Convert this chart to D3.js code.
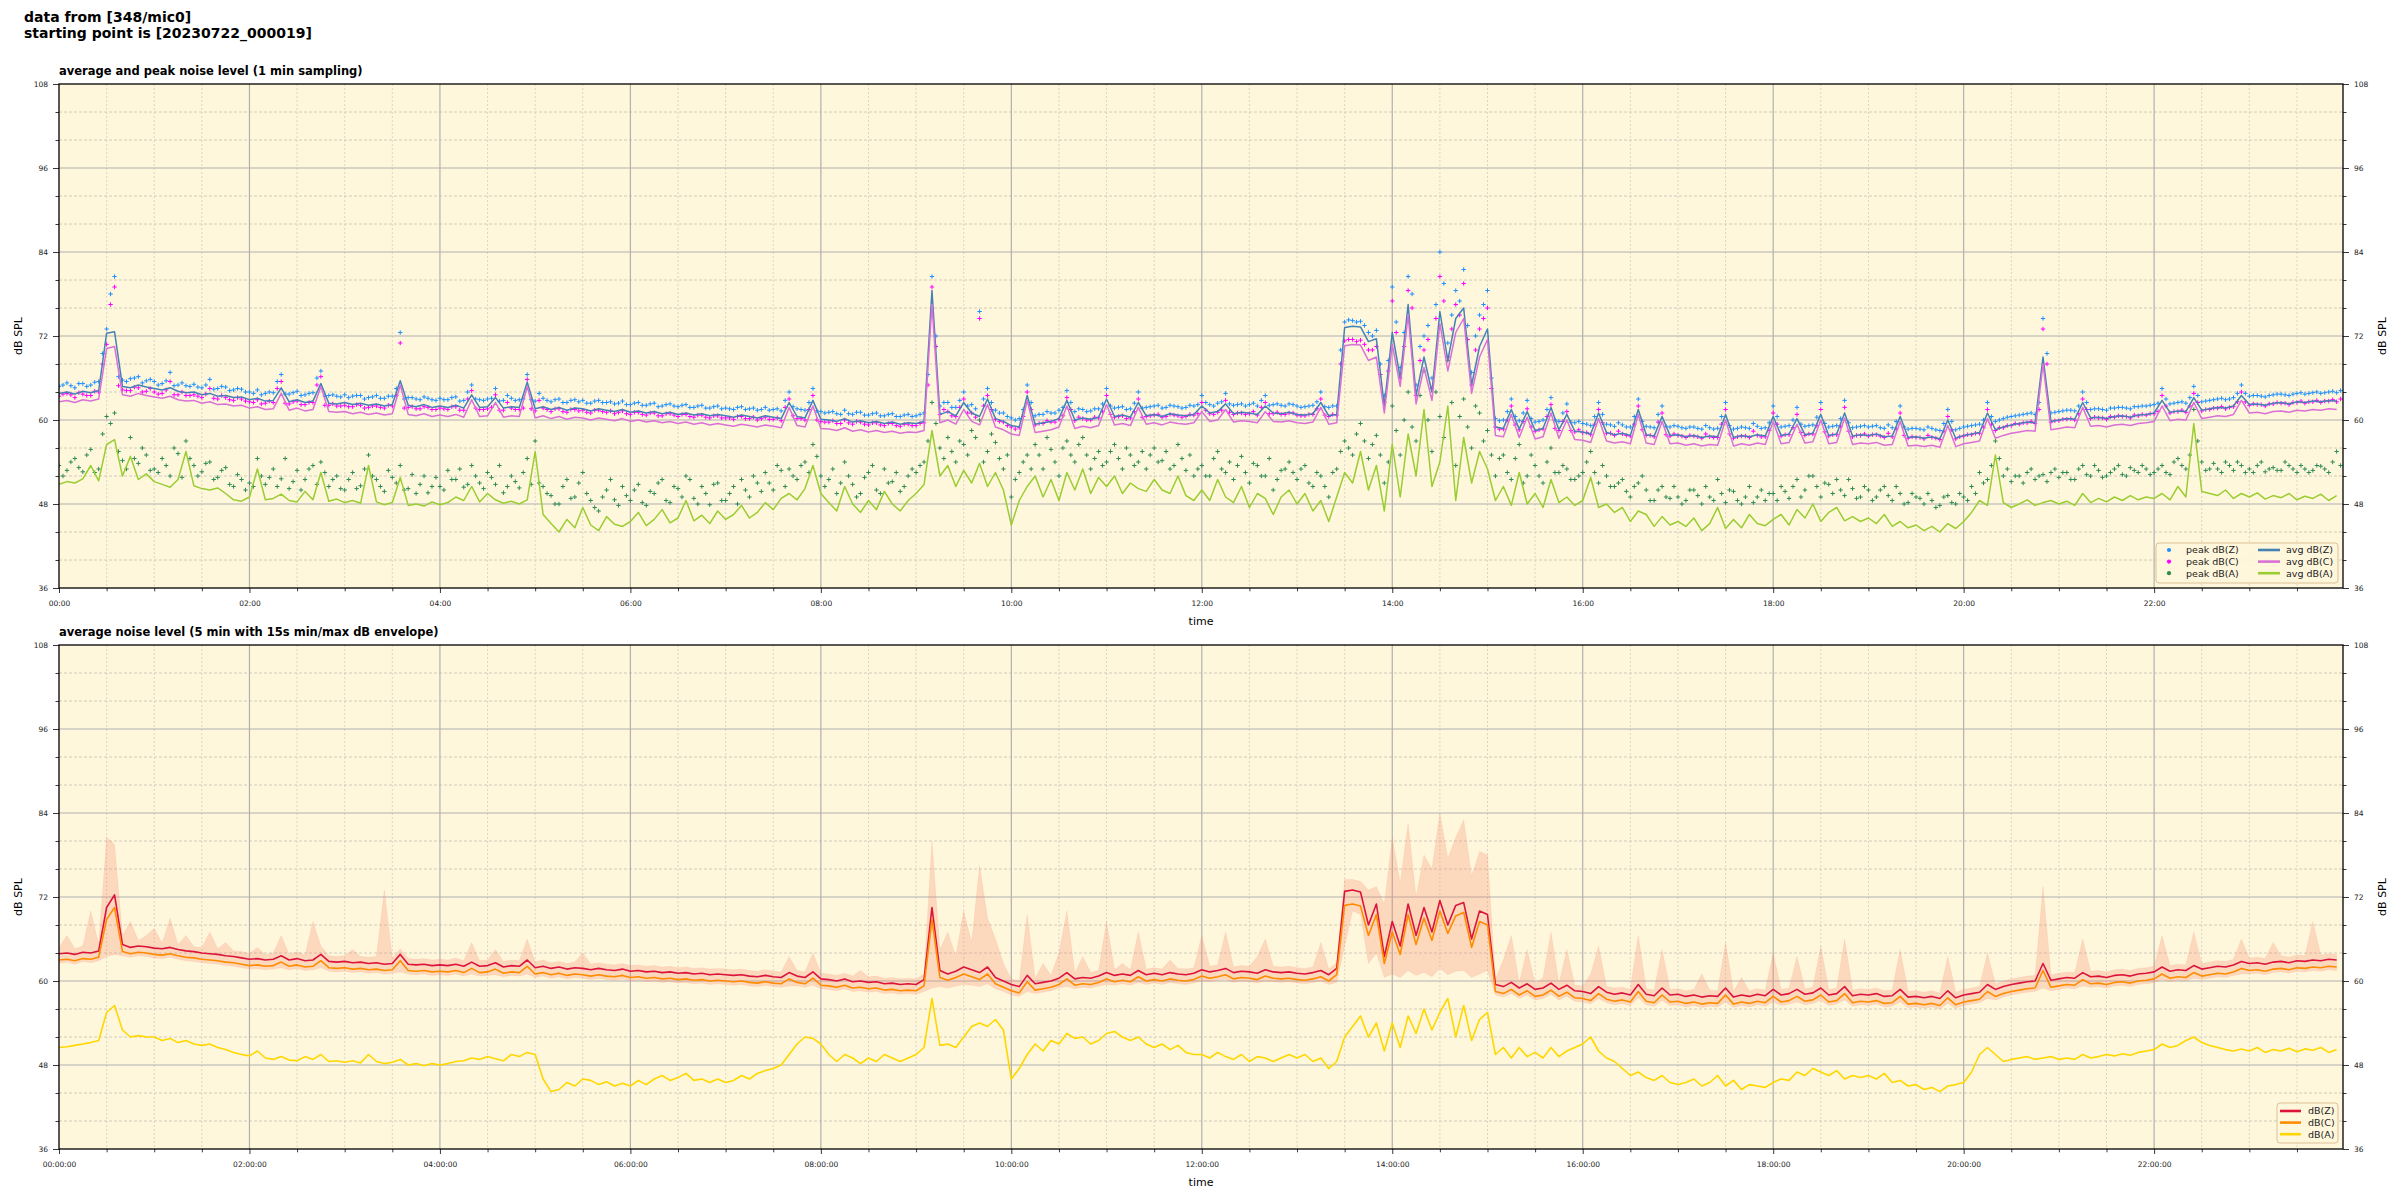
<!DOCTYPE html>
<html><head><meta charset="utf-8">
<script src="https://cdn.jsdelivr.net/npm/d3@7"></script>
<style>body{margin:0;background:#fff;} svg{display:block;font-family:"DejaVu Sans",sans-serif;}</style>
</head><body><svg id="c" width="2400" height="1200"></svg>
<script>
// sampling step of the arrays below (minutes); index i -> i*5 min after 00:00
const stepMin = 5;
// second peak arrays are sampled half a step later (i*5 + 2.5 min)
const halfStep = 2.5;
const yTicks = [36, 48, 60, 72, 84, 96, 108];
const topTitle = "average and peak noise level (1 min sampling)";
const botTitle = "average noise level (5 min with 15s min/max dB envelope)";

const avgZ = [
63.8,64.0,63.7,64.1,63.9,64.2,72.4,72.6,64.8,64.6,65.0,64.7,
64.5,64.3,64.6,64.1,63.9,64.0,63.6,63.8,63.4,63.5,63.2,63.3,
62.9,63.1,62.7,62.8,64.6,62.6,62.9,62.5,62.7,65.2,62.4,62.3,
62.5,62.2,62.4,62.1,62.3,62.0,62.2,65.6,62.1,61.9,62.2,61.8,
62.0,61.8,62.1,61.7,63.6,61.8,61.9,63.2,61.7,61.9,61.8,65.4,
61.6,61.9,61.5,61.8,61.4,61.7,61.6,61.3,61.6,61.4,61.2,61.5,
61.1,61.3,61.0,61.2,60.9,61.1,60.8,61.0,60.7,60.9,60.6,60.8,
60.6,60.4,60.7,60.5,60.3,60.6,60.4,60.2,62.5,60.5,60.3,62.8,
60.1,60.0,59.8,60.2,59.7,59.9,59.6,59.8,59.5,59.7,59.4,59.6,
59.5,59.8,78.5,60.8,61.2,60.6,62.5,61.0,60.5,63.0,60.2,59.8,
59.2,59.0,63.5,59.4,59.6,59.8,60.2,62.8,60.0,60.3,60.1,60.4,
63.0,60.5,60.7,60.4,62.5,60.6,60.8,60.5,60.9,60.7,60.6,60.8,
62.0,61.0,61.2,62.3,60.9,61.1,61.0,60.8,62.0,61.0,60.9,61.1,
60.8,60.7,60.9,62.5,60.6,60.8,73.2,73.4,73.3,71.2,71.6,62.0,
72.5,66.0,76.5,63.5,69.0,64.0,75.5,68.5,74.5,76.0,65.0,70.5,
73.0,59.0,58.8,61.5,58.7,61.2,58.5,58.8,61.8,58.6,60.8,58.4,
58.3,58.0,61.0,58.2,57.9,58.1,57.8,61.5,57.9,57.7,60.5,57.8,
57.9,57.6,57.8,57.5,57.7,57.6,60.8,57.5,57.8,57.6,57.9,57.7,
60.5,57.8,58.0,60.2,57.9,58.1,60.8,57.8,58.0,61.0,57.7,57.9,
57.8,58.0,57.6,57.7,60.5,57.5,57.6,57.4,57.6,57.3,60.0,57.4,
57.8,58.0,58.2,61.0,58.6,59.0,59.3,59.5,59.7,59.6,69.0,59.8,
60.0,60.2,60.1,62.5,60.3,60.4,60.2,60.5,60.6,60.4,60.7,60.8,
61.0,62.8,61.1,61.3,61.2,63.2,61.4,61.6,61.8,61.7,62.0,63.5,
62.2,62.3,62.1,62.4,62.5,62.3,62.6,62.5,62.7,62.6,62.8,62.7];

const avgC = [
62.6,62.8,62.5,62.9,62.7,63.0,70.2,70.5,63.6,63.4,63.8,63.5,
63.3,63.1,63.4,62.9,62.7,62.8,62.4,62.6,62.2,62.3,62.0,62.1,
61.7,61.9,61.5,61.6,63.8,61.4,61.7,61.3,61.5,64.8,61.2,61.1,
61.2,60.9,61.1,60.8,61.0,60.7,60.9,65.0,60.8,60.6,60.9,60.5,
60.7,60.5,60.8,60.4,62.9,60.5,60.6,62.5,60.4,60.6,60.5,64.8,
60.3,60.6,60.2,60.5,60.1,60.4,60.3,60.0,60.3,60.1,59.9,60.2,
59.8,60.0,59.7,59.9,59.6,59.8,59.5,59.7,59.4,59.6,59.3,59.5,
59.3,59.1,59.4,59.2,59.0,59.3,59.1,58.9,61.8,59.2,59.0,62.0,
58.8,58.7,58.5,58.9,58.4,58.6,58.3,58.5,58.2,58.4,58.1,58.3,
58.2,58.5,76.5,59.6,60.0,59.4,61.5,59.8,59.3,62.2,59.0,58.6,
58.0,57.8,62.8,58.2,58.4,58.6,59.0,62.0,58.8,59.1,58.9,59.2,
62.2,59.3,59.5,59.2,61.8,59.4,59.6,59.3,59.7,59.5,59.4,59.6,
61.2,59.8,60.0,61.5,59.7,59.9,59.8,59.6,61.2,59.8,59.7,59.9,
59.6,59.5,59.7,61.8,59.4,59.6,70.6,70.8,70.7,68.5,69.0,61.0,
70.8,64.8,75.0,62.3,67.5,62.8,73.8,67.0,72.5,74.5,63.8,69.0,
71.5,57.8,57.6,60.8,57.5,60.4,57.3,57.6,61.0,57.4,60.0,57.2,
57.1,56.8,60.2,57.0,56.7,56.9,56.6,60.8,56.7,56.5,59.8,56.6,
56.7,56.4,56.6,56.3,56.5,56.4,60.0,56.3,56.6,56.4,56.7,56.5,
59.8,56.6,56.8,59.4,56.7,56.9,60.0,56.6,56.8,60.3,56.5,56.7,
56.6,56.8,56.4,56.5,59.8,56.3,56.4,56.2,56.4,56.1,59.2,56.2,
56.6,56.8,57.0,60.2,57.4,57.8,58.1,58.3,58.5,58.4,68.0,58.6,
58.8,59.0,58.9,61.8,59.1,59.2,59.0,59.3,59.4,59.2,59.5,59.6,
59.8,62.0,59.9,60.1,60.0,62.5,60.2,60.4,60.6,60.5,60.8,62.8,
61.0,61.1,60.9,61.2,61.3,61.1,61.4,61.3,61.5,61.4,61.6,61.5];

const avgA = [
50.8,51.2,51.0,51.6,53.5,51.3,56.5,57.2,52.0,54.8,51.5,52.3,
51.2,50.8,50.4,51.5,55.5,50.6,50.2,50.0,50.3,49.5,48.6,48.4,
49.0,53.0,48.6,48.8,49.4,48.5,48.3,49.8,48.6,52.5,48.4,48.7,
48.2,48.5,48.1,53.5,48.3,47.9,48.2,51.8,47.8,48.0,47.7,48.3,
47.9,48.2,49.0,48.5,50.5,48.3,49.5,48.6,48.1,48.4,48.0,48.6,
55.5,46.5,45.2,44.0,45.8,44.6,47.5,45.0,44.2,46.2,45.1,44.8,
45.5,46.8,44.9,45.8,47.2,45.3,46.0,48.5,45.6,46.4,45.2,47.0,
45.8,46.5,47.8,46.0,46.8,48.2,47.2,48.8,49.5,48.6,50.2,53.5,
49.5,48.2,47.0,50.5,48.0,46.8,48.5,47.2,49.8,48.0,47.0,48.5,
49.5,50.8,58.5,52.0,53.5,50.5,52.8,51.0,53.8,50.5,52.5,50.0,
45.0,48.5,50.5,52.0,49.0,51.5,48.5,52.5,50.0,53.0,49.5,51.8,
50.5,52.0,49.5,51.0,50.2,49.8,51.5,50.0,49.5,52.0,49.2,48.5,
50.0,48.5,51.5,49.0,48.2,50.5,47.5,49.5,48.8,46.5,49.0,50.0,
48.0,49.5,47.0,48.5,45.5,49.0,52.5,51.0,55.5,50.0,53.5,47.0,
56.5,49.0,58.0,52.0,61.5,50.5,54.0,62.0,48.5,57.5,51.0,55.5,
53.0,48.5,50.5,47.8,52.5,48.0,49.5,47.5,51.5,48.2,49.0,47.8,
48.5,51.8,47.5,48.0,46.8,47.5,45.5,47.0,46.5,44.8,46.2,45.0,
45.5,44.8,46.0,44.2,45.2,47.5,44.5,45.8,44.6,46.5,45.2,44.9,
45.8,46.5,45.0,47.2,46.0,48.0,45.5,46.8,47.5,45.6,46.2,45.5,
46.0,45.2,46.5,44.8,45.5,44.6,45.0,44.2,44.8,44.0,45.2,44.5,
45.5,46.8,48.5,47.8,55.0,48.2,47.5,48.0,48.6,47.8,48.2,48.5,
48.0,48.4,47.8,49.5,48.2,48.8,48.3,49.0,48.5,49.2,48.6,49.0,
48.8,49.5,48.6,50.5,49.0,59.5,49.8,49.5,49.2,50.0,48.8,49.5,
49.0,49.6,48.7,49.2,48.9,49.5,48.6,49.1,48.8,49.4,48.5,49.2];

const peakZ = [
64.8,65.3,64.6,65.2,65.0,65.5,73.0,80.5,65.7,65.9,66.2,65.6,
65.5,65.2,66.8,65.0,64.9,65.1,64.6,65.8,64.5,64.7,64.3,64.4,
64.0,64.3,63.8,63.9,66.5,63.7,64.1,63.6,63.9,67.0,63.5,63.4,
63.6,63.4,63.5,63.2,63.5,63.1,63.4,72.5,63.2,63.0,63.3,62.9,
63.1,62.9,63.3,62.8,65.0,62.9,63.0,64.5,62.8,63.1,62.9,66.5,
62.7,63.1,62.6,63.0,62.5,62.9,62.8,62.4,62.8,62.5,62.3,62.7,
62.2,62.5,62.1,62.4,62.0,62.3,61.9,62.2,61.8,62.1,61.7,62.0,
61.7,61.5,61.9,61.6,61.4,61.8,61.5,61.3,64.0,61.6,61.4,64.5,
61.2,61.1,60.9,61.4,60.8,61.1,60.7,61.0,60.6,60.9,60.5,60.8,
60.6,61.0,80.5,62.0,62.5,61.8,64.0,62.2,75.5,64.5,61.4,61.0,
60.3,60.2,65.0,60.6,60.8,61.0,61.4,64.2,61.2,61.5,61.3,61.6,
64.5,61.7,61.9,61.6,64.0,61.8,62.0,61.7,62.1,61.9,61.8,62.0,
63.5,62.2,62.4,63.8,62.1,62.3,62.2,62.0,63.5,62.2,62.1,62.3,
62.0,61.9,62.1,64.0,61.8,62.0,74.0,74.2,74.1,72.5,72.8,63.5,
79.0,67.5,80.5,65.0,72.0,66.0,84.0,71.0,78.5,81.5,66.8,75.0,
78.5,60.2,60.0,63.0,59.9,62.8,59.7,60.0,63.2,59.8,62.3,59.6,
59.5,59.2,62.5,59.4,59.1,59.3,59.0,63.0,59.1,58.9,62.0,59.0,
59.1,58.8,59.0,58.7,58.9,58.8,62.5,58.7,59.0,58.8,59.1,58.9,
62.0,59.0,59.2,61.8,59.1,59.3,62.5,59.0,59.2,62.8,58.9,59.1,
59.0,59.2,58.8,58.9,62.0,58.7,58.8,58.6,58.8,58.5,61.5,58.6,
59.0,59.2,59.4,62.5,59.8,60.2,60.5,60.7,60.9,60.8,74.5,61.0,
61.2,61.4,61.3,64.0,61.5,61.6,61.4,61.7,61.8,61.6,61.9,62.0,
62.2,64.5,62.3,62.5,62.4,64.8,62.6,62.8,63.0,62.9,63.2,65.0,
63.4,63.5,63.3,63.6,63.7,63.5,63.8,63.7,63.9,63.8,64.0,63.9];

const peakZ2 = [
65.0,64.9,65.2,64.8,65.4,69.5,78.0,66.2,65.5,66.0,65.3,65.8,
65.0,65.6,64.9,65.3,64.8,64.7,65.0,64.4,64.8,64.2,64.5,64.0,
63.8,63.6,64.0,65.5,63.7,63.9,63.5,63.8,66.0,63.4,63.6,63.3,
63.2,63.5,63.0,63.3,63.1,63.4,64.5,63.0,63.2,62.9,63.1,62.8,
62.9,63.2,62.7,64.0,63.0,62.8,63.1,62.7,63.5,62.8,63.0,62.9,
63.8,62.8,62.9,62.5,62.8,62.6,62.4,62.7,62.5,62.6,62.4,62.2,
62.4,62.1,62.3,61.9,62.2,62.0,62.1,61.8,62.0,61.7,61.9,61.6,
61.6,61.8,61.5,61.7,61.5,61.4,61.6,62.8,61.9,61.5,62.5,61.3,
61.0,61.2,60.8,60.9,61.1,60.7,60.9,60.6,60.8,60.5,60.7,60.5,
60.8,66.5,72.0,62.5,61.8,62.8,62.0,61.6,63.0,62.5,61.0,60.5,
60.0,61.5,62.5,60.8,61.2,61.0,61.8,62.5,61.6,61.2,61.6,62.3,
62.0,61.8,61.5,62.4,61.7,61.9,62.1,61.8,62.0,61.7,62.1,62.2,
62.5,62.0,62.6,62.3,62.2,62.0,62.4,62.8,62.1,62.3,62.0,62.2,
61.8,62.0,62.6,61.9,62.0,70.0,74.3,74.0,73.5,72.0,68.0,68.5,
74.0,72.5,78.0,70.5,73.5,76.5,79.5,75.0,77.0,73.5,72.0,76.5,
66.0,59.9,61.2,60.5,61.0,60.2,59.8,61.5,60.0,61.0,59.7,59.8,
59.4,60.5,60.8,59.3,59.6,59.0,60.5,59.8,59.0,60.8,59.1,59.2,
58.9,59.0,58.8,59.2,58.7,60.5,59.2,58.8,58.9,59.5,58.8,59.6,
60.5,59.1,60.0,59.4,59.2,60.4,59.5,59.1,60.2,59.6,59.0,59.2,
59.1,58.9,59.3,59.8,59.0,58.8,58.7,59.0,58.6,59.5,59.8,58.8,
59.1,59.3,60.0,60.5,60.0,60.4,60.6,60.8,61.0,62.5,69.5,61.1,
61.3,61.4,62.0,62.5,61.6,61.5,61.7,61.8,61.7,61.9,62.0,62.1,
62.4,63.0,62.4,62.6,63.2,63.5,62.7,62.9,63.1,63.0,63.8,63.8,
63.5,63.4,63.5,63.7,63.6,63.7,63.9,63.8,64.0,63.9,64.1,64.2];

const peakC = [
63.4,63.8,63.2,63.7,63.5,64.0,70.8,79.0,64.3,64.2,64.6,64.1,
64.0,63.8,65.5,63.6,63.5,63.6,63.2,64.5,63.0,63.2,62.8,63.0,
62.6,62.9,62.4,62.5,65.5,62.3,62.7,62.2,62.5,66.2,62.1,62.0,
62.1,61.9,62.1,61.8,62.0,61.7,62.0,71.0,61.8,61.6,61.9,61.5,
61.7,61.5,61.9,61.4,64.2,61.5,61.6,63.6,61.4,61.7,61.5,65.8,
61.3,61.7,61.2,61.6,61.1,61.5,61.4,61.0,61.4,61.1,60.9,61.3,
60.8,61.1,60.7,61.0,60.6,60.9,60.5,60.8,60.4,60.7,60.3,60.6,
60.3,60.1,60.5,60.2,60.0,60.4,60.1,59.9,63.0,60.2,60.0,63.5,
59.8,59.7,59.5,60.0,59.4,59.7,59.3,59.6,59.2,59.5,59.1,59.4,
59.2,59.6,79.0,60.8,61.2,60.5,63.0,61.0,74.5,63.5,60.1,59.7,
59.0,58.9,64.0,59.3,59.5,59.7,60.1,63.2,59.9,60.2,60.0,60.3,
63.5,60.4,60.6,60.3,63.0,60.5,60.7,60.4,60.8,60.6,60.5,60.7,
62.5,60.9,61.1,62.8,60.8,61.0,60.9,60.7,62.5,60.9,60.8,61.0,
60.7,60.6,60.8,63.0,60.5,60.7,71.3,71.5,71.4,70.0,70.5,62.5,
77.0,66.0,78.5,63.5,70.0,64.5,80.5,69.0,76.5,79.5,65.0,73.0,
76.0,59.0,58.7,62.0,58.6,61.6,58.4,58.7,62.2,58.5,61.2,58.3,
58.2,57.9,61.5,58.1,57.8,58.0,57.7,62.0,57.8,57.6,61.0,57.7,
57.8,57.5,57.7,57.4,57.6,57.5,61.5,57.4,57.7,57.5,57.8,57.6,
61.0,57.7,57.9,60.8,57.8,58.0,61.5,57.7,57.9,61.8,57.6,57.8,
57.7,57.9,57.5,57.6,61.0,57.4,57.5,57.3,57.5,57.2,60.5,57.3,
57.7,57.9,58.1,61.5,58.5,58.9,59.2,59.4,59.6,59.5,73.0,59.7,
59.9,60.1,60.0,63.0,60.2,60.3,60.1,60.4,60.5,60.3,60.6,60.7,
60.9,63.5,61.0,61.2,61.1,63.8,61.3,61.5,61.7,61.6,61.9,64.0,
62.1,62.2,62.0,62.3,62.4,62.2,62.5,62.4,62.6,62.5,62.7,62.6];

const peakC2 = [
63.7,63.6,63.9,63.5,64.1,68.0,76.5,64.9,64.2,64.7,64.0,64.5,
63.7,64.3,63.6,64.0,63.5,63.4,63.7,63.1,63.5,62.9,63.2,62.7,
62.5,62.3,62.7,64.5,62.4,62.6,62.2,62.5,65.0,62.1,62.3,62.0,
61.9,62.2,61.7,62.0,61.8,62.1,63.5,61.7,61.9,61.6,61.8,61.5,
61.6,61.9,61.4,63.0,61.7,61.5,61.8,61.4,62.5,61.5,61.7,61.6,
62.8,61.5,61.6,61.2,61.5,61.3,61.1,61.4,61.2,61.3,61.1,60.9,
61.1,60.8,61.0,60.6,60.9,60.7,60.8,60.5,60.7,60.4,60.6,60.3,
60.3,60.5,60.2,60.4,60.2,60.1,60.3,61.8,60.6,60.2,61.5,60.0,
59.7,59.9,59.5,59.6,59.8,59.4,59.6,59.3,59.5,59.2,59.4,59.2,
59.5,65.0,70.5,61.5,60.6,61.8,61.0,60.4,62.0,61.5,59.8,59.2,
58.7,60.5,61.5,59.5,59.9,59.7,60.6,61.5,60.4,60.0,60.4,61.2,
60.8,60.5,60.2,61.2,60.4,60.6,60.8,60.5,60.7,60.4,60.8,60.9,
61.4,60.8,61.4,61.1,61.0,60.8,61.2,61.8,60.9,61.1,60.8,61.0,
60.6,60.8,61.6,60.7,60.8,68.0,71.5,71.2,70.8,70.0,66.5,67.0,
72.5,70.5,76.0,68.5,71.5,74.5,77.0,73.0,75.0,71.5,70.0,74.5,
64.5,58.7,60.0,59.3,59.8,59.0,58.6,60.5,58.8,59.8,58.5,58.6,
58.2,59.4,59.6,58.1,58.4,57.8,59.4,58.6,57.8,59.7,57.9,58.0,
57.7,57.8,57.6,58.0,57.5,59.4,58.0,57.6,57.7,58.4,57.6,58.5,
59.4,57.9,58.9,58.2,58.0,59.2,58.3,57.9,59.1,58.4,57.8,58.0,
57.9,57.7,58.1,58.7,57.8,57.6,57.5,57.8,57.4,58.4,58.6,57.6,
57.9,58.1,58.9,59.4,58.9,59.2,59.5,59.6,59.8,61.5,68.0,59.9,
60.1,60.2,60.9,61.5,60.4,60.3,60.5,60.6,60.5,60.7,60.8,60.9,
61.2,62.0,61.2,61.4,62.0,62.5,61.5,61.7,61.9,61.8,62.6,62.6,
62.3,62.2,62.3,62.5,62.4,62.5,62.7,62.6,62.8,62.7,62.9,63.0];

const peakA = [
53.5,52.8,54.5,52.6,55.8,53.0,60.5,61.0,54.2,57.5,53.8,55.0,
53.0,54.5,52.0,55.2,57.0,53.5,52.6,54.0,51.8,53.2,50.5,51.5,
51.0,54.5,50.8,53.0,51.6,50.2,52.8,51.5,53.5,54.0,50.5,52.0,
50.0,52.5,50.6,55.0,51.5,49.8,51.8,53.5,50.2,49.5,52.0,50.5,
50.5,52.8,51.5,50.4,53.5,51.0,52.5,50.8,49.6,52.0,50.3,54.5,
57.0,50.5,49.2,48.0,51.5,49.0,52.5,48.5,47.0,50.0,48.6,50.5,
48.5,50.8,47.8,49.5,51.5,48.2,50.2,52.0,48.8,50.5,47.9,51.0,
48.5,50.5,51.5,49.0,51.0,52.5,50.0,52.8,53.0,51.5,54.0,56.5,
52.0,51.5,49.5,54.0,50.8,49.5,52.5,50.0,53.0,51.2,49.8,52.0,
52.5,54.0,62.5,56.0,57.5,54.0,56.5,58.5,60.0,55.5,56.8,53.0,
49.0,52.5,55.0,56.5,53.0,55.8,52.0,57.0,54.0,57.5,53.0,55.5,
54.0,56.5,53.0,55.0,54.0,53.0,56.0,54.2,53.0,56.5,52.8,52.0,
53.5,52.0,55.5,52.5,51.5,54.8,51.0,53.5,52.0,50.0,52.8,54.0,
51.5,53.5,50.5,52.0,49.0,53.0,57.0,55.0,59.5,54.5,57.8,51.0,
62.0,55.0,64.0,57.0,67.0,55.5,60.5,68.5,53.5,63.0,56.0,61.0,
58.5,52.0,55.0,51.5,56.5,52.0,53.5,51.0,56.0,52.5,53.0,51.5,
52.5,55.5,51.0,52.0,50.5,51.5,49.0,51.0,50.0,48.5,50.5,48.8,
49.0,48.5,50.0,48.0,49.0,51.5,48.2,49.8,48.0,50.5,49.0,48.5,
49.5,50.5,48.8,51.5,50.0,52.0,49.0,50.8,51.5,49.2,50.2,49.0,
50.0,49.0,50.5,48.5,49.5,48.2,49.0,48.0,48.5,47.8,49.2,48.0,
49.0,50.5,52.5,51.5,57.0,52.0,51.2,52.0,52.5,51.5,52.2,52.5,
51.8,52.5,51.5,53.5,52.0,52.8,52.0,53.0,52.2,53.2,52.5,53.0,
52.5,53.5,52.2,54.5,53.0,61.5,54.0,53.0,53.0,54.0,52.8,53.5,
53.0,53.5,52.6,53.2,52.8,53.5,52.5,53.0,52.8,53.4,52.5,55.5];

const peakA2 = [
52.0,54.0,53.2,55.0,52.5,58.0,59.5,55.5,53.0,54.5,56.0,52.8,
52.5,53.5,56.0,51.8,54.5,52.0,53.8,51.5,52.8,50.8,52.2,50.0,
50.5,52.0,51.8,50.5,54.5,51.2,50.0,53.0,50.8,52.5,51.5,50.2,
51.5,50.2,53.0,52.0,50.5,52.8,51.0,50.0,52.2,50.8,49.6,51.8,
50.0,51.5,53.0,50.8,52.0,50.2,51.8,53.5,50.5,51.2,52.5,50.8,
51.0,49.5,48.0,50.5,48.8,51.0,49.5,47.5,49.0,51.5,47.8,49.2,
50.0,48.2,49.8,51.0,48.5,50.5,49.0,51.5,48.0,49.5,50.8,48.5,
49.5,48.0,50.0,52.0,49.8,51.0,53.5,50.5,52.0,53.5,52.5,54.8,
50.5,53.0,51.0,52.0,49.0,51.8,53.5,49.5,51.0,52.5,50.5,53.0,
53.5,57.0,59.5,54.5,55.5,57.0,55.0,57.5,54.0,58.0,54.5,55.0,
51.5,54.0,53.0,55.0,57.5,54.0,56.0,55.0,56.5,55.0,54.5,53.5,
55.5,54.5,56.0,53.5,55.5,55.0,54.0,55.5,53.5,54.5,55.0,53.0,
52.0,54.5,53.0,54.0,53.5,52.5,53.8,52.0,54.5,51.5,53.0,52.5,
53.0,51.0,52.5,50.5,52.5,55.5,56.0,58.0,57.0,56.5,55.0,54.0,
58.5,60.0,59.0,63.5,60.0,64.0,57.5,62.5,60.5,59.0,62.0,57.0,
55.0,54.5,52.5,54.5,51.0,55.0,52.0,54.0,52.5,53.5,51.5,52.0,
54.0,52.5,53.5,50.5,51.0,49.8,50.5,52.0,48.5,50.0,49.0,50.5,
48.0,50.0,49.2,50.5,48.5,49.5,50.0,48.5,49.0,48.2,50.0,49.5,
48.5,49.8,50.5,49.0,52.0,50.5,51.0,49.5,50.0,51.5,48.8,50.5,
48.5,50.0,49.2,50.5,48.0,49.5,48.8,49.5,47.5,49.0,48.2,49.5,
48.5,49.5,51.0,53.5,54.5,53.0,52.0,51.0,53.0,52.0,51.2,53.0,
52.5,51.5,53.0,52.2,53.5,51.8,52.5,53.5,52.0,52.8,53.5,52.2,
53.0,52.5,54.0,53.5,55.0,57.0,52.8,53.8,52.5,53.5,54.0,52.5,
52.5,54.0,53.0,52.8,54.0,53.0,53.5,52.5,53.5,53.0,54.0,53.5];

const lvlZ = [
63.9,64.0,63.8,64.1,64.0,64.3,70.5,72.3,65.2,64.8,65.0,64.9,
64.7,64.6,64.8,64.5,64.3,64.2,64.0,63.9,63.8,63.6,63.5,63.3,
63.1,63.2,63.0,63.1,63.6,63.0,63.2,62.9,63.0,63.8,62.8,62.7,
62.8,62.6,62.7,62.5,62.6,62.4,62.5,63.8,62.4,62.3,62.4,62.2,
62.3,62.2,62.4,62.1,62.7,62.1,62.2,62.6,62.0,62.2,62.1,63.0,
61.9,62.1,61.8,62.0,61.7,61.9,61.8,61.6,61.8,61.6,61.5,61.7,
61.4,61.5,61.3,61.4,61.2,61.3,61.1,61.2,61.0,61.1,60.9,61.0,
60.9,60.8,60.9,60.7,60.6,60.8,60.6,60.5,61.2,60.7,60.5,61.3,
60.3,60.2,60.0,60.3,59.9,60.0,59.8,59.9,59.6,59.7,59.5,59.6,
59.5,60.2,70.5,61.5,61.0,61.4,62.0,61.6,61.2,62.0,60.5,60.0,
59.5,59.2,60.8,59.6,59.8,60.0,60.4,61.2,60.3,60.5,60.4,60.7,
61.2,60.8,61.0,60.8,61.5,60.9,61.1,60.9,61.2,61.0,60.9,61.1,
61.6,61.3,61.5,61.8,61.2,61.4,61.3,61.1,61.6,61.3,61.2,61.3,
61.1,61.0,61.2,61.5,60.9,61.8,72.8,73.0,72.7,68.0,71.0,63.5,
68.5,65.0,71.0,66.5,70.5,67.0,71.5,68.0,70.8,71.2,66.0,70.0,
69.5,59.5,59.2,59.8,59.0,59.6,58.8,59.0,59.7,58.8,59.4,58.6,
58.5,58.2,59.2,58.4,58.1,58.3,58.0,59.5,58.1,57.9,59.0,58.0,
58.1,57.8,58.0,57.7,57.9,57.8,59.0,57.7,58.0,57.8,58.1,57.9,
58.8,58.0,58.2,58.8,58.1,58.3,59.0,58.0,58.2,59.2,57.9,58.1,
58.0,58.2,57.8,57.9,58.8,57.7,57.8,57.6,57.8,57.5,58.6,57.6,
58.0,58.2,58.4,59.5,58.8,59.2,59.5,59.7,59.9,60.0,62.5,60.1,
60.3,60.5,60.4,61.2,60.6,60.7,60.5,60.8,60.9,60.7,61.0,61.1,
61.3,62.0,61.4,61.6,61.5,62.2,61.7,61.9,62.1,62.0,62.3,62.8,
62.5,62.6,62.4,62.7,62.8,62.6,62.9,62.8,63.0,62.9,63.1,63.0];

const lvlC = [
63.0,63.1,62.9,63.2,63.1,63.4,68.8,70.5,64.2,63.9,64.1,64.0,
63.8,63.7,63.9,63.6,63.4,63.3,63.1,63.0,62.9,62.7,62.6,62.4,
62.2,62.3,62.1,62.2,62.7,62.1,62.3,62.0,62.1,62.9,61.9,61.8,
61.9,61.7,61.8,61.6,61.7,61.5,61.6,62.9,61.5,61.4,61.5,61.3,
61.4,61.3,61.5,61.2,61.8,61.2,61.3,61.7,61.1,61.3,61.2,62.1,
61.0,61.2,60.9,61.1,60.8,61.0,60.9,60.7,60.9,60.7,60.6,60.8,
60.5,60.6,60.4,60.5,60.3,60.4,60.2,60.3,60.1,60.2,60.0,60.1,
60.0,59.9,60.0,59.8,59.7,59.9,59.7,59.6,60.3,59.8,59.6,60.4,
59.4,59.3,59.1,59.4,59.0,59.1,58.9,59.0,58.7,58.8,58.6,58.7,
58.6,59.3,68.8,60.5,60.1,60.5,61.0,60.6,60.2,61.0,59.6,59.1,
58.6,58.3,59.9,58.7,58.9,59.1,59.5,60.3,59.4,59.6,59.5,59.8,
60.3,59.9,60.1,59.9,60.6,60.0,60.2,60.0,60.3,60.1,60.0,60.2,
60.7,60.4,60.6,60.9,60.3,60.5,60.4,60.2,60.7,60.4,60.3,60.4,
60.2,60.1,60.3,60.6,60.0,60.9,70.8,71.0,70.7,66.5,69.5,62.5,
67.0,63.8,69.5,65.2,69.0,65.8,70.0,66.8,69.3,69.8,64.8,68.5,
68.0,58.5,58.2,58.8,58.0,58.6,57.8,58.0,58.7,57.8,58.4,57.6,
57.5,57.2,58.2,57.4,57.1,57.3,57.0,58.5,57.1,56.9,58.0,57.0,
57.1,56.8,57.0,56.7,56.9,56.8,58.0,56.7,57.0,56.8,57.1,56.9,
57.8,57.0,57.2,57.8,57.1,57.3,58.0,57.0,57.2,58.2,56.9,57.1,
57.0,57.2,56.8,56.9,57.8,56.7,56.8,56.6,56.8,56.5,57.6,56.6,
57.0,57.2,57.4,58.5,57.8,58.2,58.5,58.7,58.9,59.0,61.5,59.1,
59.3,59.5,59.4,60.2,59.6,59.7,59.5,59.8,59.9,59.7,60.0,60.1,
60.3,61.0,60.4,60.6,60.5,61.2,60.7,60.9,61.1,61.0,61.3,61.8,
61.5,61.6,61.4,61.7,61.8,61.6,61.9,61.8,62.0,61.9,62.1,62.0];

const lvlA = [
50.5,50.6,50.8,51.0,51.2,51.5,55.5,56.5,53.0,52.0,52.2,52.0,
52.0,51.5,51.8,51.2,51.5,51.0,50.8,51.0,50.5,50.2,49.8,49.5,
49.3,50.0,49.0,48.8,49.2,48.7,48.6,49.2,48.8,49.5,48.5,48.6,
48.4,48.6,48.3,49.5,48.5,48.2,48.4,48.8,48.0,48.2,47.9,48.2,
48.0,48.2,48.5,48.6,49.0,48.8,49.2,48.9,48.6,49.5,49.2,49.8,
49.5,46.0,44.2,44.5,45.5,45.0,46.0,45.8,45.2,45.6,45.0,45.4,
45.0,45.8,45.2,46.0,46.5,45.8,46.2,46.8,45.8,46.0,45.5,46.0,
45.5,45.8,46.5,46.0,46.8,47.2,47.5,48.0,49.5,51.0,52.0,51.8,
51.0,49.5,48.5,49.5,49.0,48.2,49.0,48.5,49.5,49.0,48.5,49.0,
49.5,50.5,57.5,50.8,51.0,50.5,52.0,53.5,54.0,53.5,54.5,53.0,
46.0,47.5,49.5,51.0,50.0,51.5,51.0,52.5,51.8,52.0,51.0,51.5,
52.5,52.8,52.0,51.5,52.0,51.0,50.5,51.0,50.2,50.8,49.8,49.5,
49.5,49.0,49.8,49.2,48.8,49.5,48.5,49.2,49.0,48.5,49.0,49.5,
49.0,49.5,48.5,49.0,47.5,48.5,52.0,53.5,55.0,52.0,54.0,50.0,
54.0,50.5,55.0,52.5,56.0,53.0,55.5,57.5,52.0,56.5,51.5,54.5,
55.5,49.5,50.5,49.0,50.5,49.2,49.8,49.0,50.5,49.2,50.0,50.5,
51.0,52.0,50.0,49.0,48.5,47.5,46.5,47.0,46.2,45.8,46.5,45.5,
45.2,45.5,46.0,45.0,45.5,46.5,45.0,45.8,44.5,45.2,45.0,44.8,
45.5,46.0,45.8,47.0,46.5,47.5,47.0,46.5,47.2,46.0,46.5,46.2,
46.5,46.0,46.8,45.5,45.8,45.0,45.2,44.5,44.8,44.2,45.0,45.2,
45.5,47.0,49.5,50.5,49.5,48.5,48.8,49.0,49.2,48.8,49.0,49.2,
48.8,49.0,48.8,49.5,49.0,49.2,49.5,49.3,49.6,49.4,49.8,50.0,
50.2,51.0,50.5,50.8,51.5,52.0,51.2,50.8,50.5,50.2,50.0,50.3,
50.0,50.5,49.8,50.2,50.0,50.4,49.9,50.3,50.1,50.5,49.8,50.2];

const envMax = [
64.8,66.5,64.6,65.0,70.0,65.2,80.5,79.5,66.5,68.5,65.8,66.5,
67.5,65.4,69.0,65.2,66.5,64.9,64.8,67.0,64.6,65.5,64.3,64.2,
63.9,64.8,63.8,64.0,66.5,63.8,64.2,63.7,68.5,65.0,63.6,63.5,
63.6,64.5,63.5,63.4,63.5,73.0,63.3,64.6,63.2,63.1,63.2,63.0,
63.1,63.0,63.3,62.9,65.5,62.9,63.0,64.5,62.8,63.0,62.9,66.0,
62.7,63.0,62.6,62.8,62.5,62.7,64.0,62.4,62.6,62.4,62.3,62.5,
62.2,62.3,62.1,62.2,62.0,62.1,61.9,62.0,61.8,61.9,61.7,61.8,
61.7,61.6,61.7,61.5,61.4,61.6,61.4,61.3,63.5,61.5,61.3,64.0,
61.1,61.0,60.8,61.1,60.7,61.5,60.6,60.7,60.4,60.5,60.3,60.4,
60.3,61.0,80.0,64.5,67.0,63.5,70.0,65.5,76.5,69.0,66.0,62.5,
60.3,60.0,69.5,60.4,62.5,60.8,64.0,70.0,61.1,63.5,61.2,61.5,
68.5,61.6,62.5,61.6,67.0,61.7,61.9,61.7,63.0,61.8,61.7,61.9,
66.5,62.1,62.3,67.0,62.0,62.2,62.1,63.5,66.0,62.1,62.0,62.1,
61.9,61.8,62.0,65.5,61.7,62.6,74.5,74.5,74.2,73.0,73.5,71.0,
80.5,74.0,82.5,72.0,78.0,76.0,84.0,77.5,80.5,83.0,75.0,78.5,
78.0,60.3,63.0,66.5,59.8,64.5,59.6,60.5,67.0,59.6,64.5,59.4,
59.3,61.0,65.0,59.2,59.0,59.1,58.8,66.5,58.9,58.7,64.5,58.8,
58.9,58.6,58.8,61.0,58.7,58.6,65.5,58.5,60.5,58.6,58.9,58.7,
64.0,58.8,59.0,63.5,58.9,59.1,65.0,58.8,59.0,66.0,58.7,58.9,
58.8,59.0,58.6,58.7,64.5,58.5,58.6,58.4,58.6,58.3,63.5,58.4,
58.8,59.0,59.2,64.0,59.6,60.0,60.3,60.5,60.7,60.8,73.5,60.9,
61.1,61.3,61.2,66.0,61.4,61.5,61.3,61.6,61.7,61.5,61.8,61.9,
62.1,66.5,62.2,62.4,62.3,67.0,62.5,62.7,62.9,62.8,63.1,66.0,
63.3,63.4,63.2,65.5,63.6,63.4,63.7,63.6,68.5,63.7,63.9,63.8];

const envMin = [
62.5,62.7,62.4,62.8,62.6,62.9,63.5,63.8,63.6,63.4,63.6,63.5,
63.3,63.2,63.4,63.1,62.9,62.8,62.6,62.5,62.4,62.2,62.1,61.9,
61.7,61.8,61.6,61.7,61.9,61.6,61.8,61.5,61.6,61.9,61.4,61.3,
61.4,61.2,61.3,61.1,61.2,61.0,61.1,61.3,61.0,60.9,61.0,60.8,
60.9,60.8,61.0,60.7,61.0,60.7,60.8,60.9,60.6,60.8,60.7,61.0,
60.5,60.7,60.4,60.6,60.3,60.5,60.4,60.2,60.4,60.2,60.1,60.3,
60.0,60.1,59.9,60.0,59.8,59.9,59.7,59.8,59.6,59.7,59.5,59.6,
59.5,59.4,59.5,59.3,59.2,59.4,59.2,59.1,59.3,59.3,59.1,59.4,
58.9,58.8,58.6,58.9,58.5,58.6,58.4,58.5,58.2,58.3,58.1,58.2,
58.1,58.5,59.0,59.2,59.0,59.3,59.5,59.4,59.2,59.6,58.9,58.5,
58.0,57.8,58.5,58.2,58.4,58.6,59.0,59.2,58.9,59.1,59.0,59.3,
59.5,59.4,59.6,59.4,59.8,59.5,59.7,59.5,59.8,59.6,59.5,59.7,
60.0,59.9,60.1,60.2,59.8,60.0,59.9,59.7,60.0,59.9,59.8,59.9,
59.7,59.6,59.8,60.0,59.5,59.8,65.0,70.0,69.5,62.5,64.0,60.5,
61.0,60.5,61.5,60.8,61.2,60.6,61.8,60.9,61.4,61.5,60.5,61.0,
61.5,58.0,57.7,58.2,57.5,58.0,57.3,57.5,58.1,57.3,57.8,57.1,
57.0,56.7,57.5,56.9,56.6,56.8,56.5,57.6,56.6,56.4,57.2,56.5,
56.6,56.3,56.5,56.2,56.4,56.3,57.0,56.2,56.5,56.3,56.6,56.4,
57.0,56.5,56.7,57.0,56.6,56.8,57.2,56.5,56.7,57.3,56.4,56.6,
56.5,56.7,56.3,56.4,57.0,56.2,56.3,56.1,56.3,56.0,56.8,56.1,
56.5,56.7,56.9,57.5,57.3,57.7,58.0,58.2,58.4,58.5,59.0,58.6,
58.8,59.0,58.9,59.3,59.1,59.2,59.0,59.3,59.4,59.2,59.5,59.6,
59.8,60.2,59.9,60.1,60.0,60.4,60.2,60.4,60.6,60.5,60.8,61.0,
61.0,61.1,60.9,61.2,61.3,61.1,61.4,61.3,61.5,61.4,61.6,61.5];

const topLegend = [["peak dB(Z)","#1e90ff"],["peak dB(C)","#ff00ff"],["peak dB(A)","#2e8b57"]];
const topLegend2 = [["avg dB(Z)","#4682b4"],["avg dB(C)","#da70d6"],["avg dB(A)","#9acd32"]];
const botLegend = [["dB(Z)","#dc143c"],["dB(C)","#ff8c00"],["dB(A)","#ffd700"]];

// ---------------------------------------------------------------
const svg = d3.select("#c");
const X0 = 59, X1 = 2343;
const x = d3.scaleLinear().domain([0, 1439]).range([X0, X1]);
const tm = i => i * stepMin;
const pad = n => String(n).padStart(2, "0");
const fmtHM = m => pad(Math.floor(m / 60)) + ":" + pad(m % 60);
const fmtHMS = m => fmtHM(m) + ":00";

svg.append("text").attr("x", 24).attr("y", 22).attr("font-size", 14).attr("font-weight", "bold").text("data from [348/mic0]");
svg.append("text").attr("x", 24).attr("y", 37.5).attr("font-size", 14).attr("font-weight", "bold").text("starting point is [20230722_000019]");

function panel(yTop, yBot, title, fmt, id) {
  const y = d3.scaleLinear().domain([36, 108]).range([yBot, yTop]);
  const g = svg.append("g");
  g.append("rect").attr("x", X0).attr("y", yTop).attr("width", X1 - X0).attr("height", yBot - yTop).attr("fill", "#fff7dc");
  const minorY = d3.range(36, 109, 4).filter(v => v % 12 !== 0);
  g.selectAll(null).data(minorY).join("line").attr("x1", X0).attr("x2", X1)
    .attr("y1", d => y(d)).attr("y2", d => y(d)).attr("stroke", "#c4c0b4").attr("stroke-width", 0.8).attr("stroke-dasharray", "3,2");
  const minorX = d3.range(30, 1440, 30).filter(v => v % 120 !== 0);
  g.selectAll(null).data(minorX).join("line").attr("y1", yTop).attr("y2", yBot)
    .attr("x1", d => x(d)).attr("x2", d => x(d)).attr("stroke", "#d2cdbd").attr("stroke-width", 0.8).attr("stroke-dasharray", "2,2");
  g.selectAll(null).data(yTicks.slice(1, -1)).join("line").attr("x1", X0).attr("x2", X1)
    .attr("y1", d => y(d)).attr("y2", d => y(d)).attr("stroke", "#b0b0b0").attr("stroke-width", 1.2);
  g.selectAll(null).data(d3.range(120, 1440, 120)).join("line").attr("y1", yTop).attr("y2", yBot)
    .attr("x1", d => x(d)).attr("x2", d => x(d)).attr("stroke", "#b0b0b0").attr("stroke-width", 1.2);

  svg.append("clipPath").attr("id", id).append("rect").attr("x", X0).attr("y", yTop).attr("width", X1 - X0).attr("height", yBot - yTop);
  const plot = svg.append("g").attr("clip-path", `url(#${id})`);

  const ax = svg.append("g");
  ax.append("g").attr("transform", `translate(${X0},0)`).call(d3.axisLeft(y).tickValues(yTicks).tickSize(6).tickPadding(5));
  ax.append("g").attr("transform", `translate(${X0},0)`).call(d3.axisLeft(y).tickValues(minorY).tickSize(3.5).tickFormat(""));
  ax.append("g").attr("transform", `translate(${X1},0)`).call(d3.axisRight(y).tickValues(yTicks).tickSize(6).tickPadding(5));
  ax.append("g").attr("transform", `translate(${X1},0)`).call(d3.axisRight(y).tickValues(minorY).tickSize(3.5).tickFormat(""));
  ax.append("g").attr("transform", `translate(0,${yBot})`).call(d3.axisBottom(x).tickValues(d3.range(0, 1440, 120)).tickSize(5).tickPadding(8).tickFormat(fmt));
  ax.append("g").attr("transform", `translate(0,${yBot})`).call(d3.axisBottom(x).tickValues(minorX).tickSize(3.3).tickFormat(""));
  ax.selectAll(".domain").remove();
  ax.selectAll("text").attr("font-family", "DejaVu Sans").attr("font-size", 7.5).attr("fill", "#222");
  ax.selectAll("line").attr("stroke", "#222").attr("stroke-width", 0.9);

  svg.append("text").attr("x", X0).attr("y", yTop - 9).attr("font-size", 11.5).attr("font-weight", "bold").text(title);
  svg.append("text").attr("x", (X0 + X1) / 2).attr("y", yBot + 37).attr("text-anchor", "middle").attr("font-size", 11).text("time");
  const mid = (yTop + yBot) / 2;
  svg.append("text").attr("transform", `translate(22,${mid}) rotate(-90)`).attr("text-anchor", "middle").attr("font-size", 11).text("dB SPL");
  svg.append("text").attr("transform", `translate(2386,${mid}) rotate(-90)`).attr("text-anchor", "middle").attr("font-size", 11).text("dB SPL");
  const frame = () => svg.append("rect").attr("x", X0).attr("y", yTop).attr("width", X1 - X0).attr("height", yBot - yTop)
    .attr("fill", "none").attr("stroke", "#000").attr("stroke-width", 1.3);
  return { y, plot, frame };
}

// ---------- top panel ----------
const P1 = panel(84, 588, topTitle, fmtHM, "clip1");
const line1 = d3.line().x((d, i) => x(tm(i))).y(d => P1.y(d));
const crossPath = "M-2.2,0H2.2M0,-2.2V2.2";
function crosses(arr, col, off) {
  P1.plot.append("g").selectAll("path").data(arr).join("path")
    .attr("d", crossPath).attr("transform", (d, i) => `translate(${x(tm(i) + off)},${P1.y(d)})`)
    .attr("stroke", col).attr("stroke-width", 1).attr("fill", "none");
}
crosses(peakZ, "#1e90ff", 0); crosses(peakZ2, "#1e90ff", halfStep);
crosses(peakC, "#ff00ff", 0); crosses(peakC2, "#ff00ff", halfStep);
crosses(peakA, "#2e8b57", 0); crosses(peakA2, "#2e8b57", halfStep);
[[avgZ, "#4682b4"], [avgC, "#da70d6"], [avgA, "#9acd32"]].forEach(([arr, col]) => {
  P1.plot.append("path").attr("d", line1(arr)).attr("fill", "none").attr("stroke", col).attr("stroke-width", 1.5).attr("stroke-linejoin", "round");
});
P1.frame();
{
  const lg = svg.append("g");
  lg.append("rect").attr("x", 2156).attr("y", 543).attr("width", 182).attr("height", 40).attr("rx", 3)
    .attr("fill", "#fff7dc").attr("fill-opacity", 0.85).attr("stroke", "#dcbf95").attr("stroke-width", 1);
  topLegend.forEach(([t, c], k) => {
    const yy = 550 + k * 11.6;
    lg.append("circle").attr("cx", 2169).attr("cy", yy).attr("r", 2.1).attr("fill", c);
    lg.append("text").attr("x", 2186).attr("y", yy + 3.4).attr("font-size", 9.5).attr("fill", "#222").text(t);
  });
  topLegend2.forEach(([t, c], k) => {
    const yy = 550 + k * 11.6;
    lg.append("line").attr("x1", 2258).attr("x2", 2280).attr("y1", yy).attr("y2", yy).attr("stroke", c).attr("stroke-width", 2.6);
    lg.append("text").attr("x", 2286).attr("y", yy + 3.4).attr("font-size", 9.5).attr("fill", "#222").text(t);
  });
}

// ---------- bottom panel ----------
const P2 = panel(645, 1149, botTitle, fmtHMS, "clip2");
const area2 = d3.area().x((d, i) => x(tm(i))).y0((d, i) => P2.y(envMin[i])).y1(d => P2.y(d));
P2.plot.append("path").attr("d", area2(envMax)).attr("fill", "#f58a6e").attr("fill-opacity", 0.28).attr("stroke", "#f58a6e").attr("stroke-opacity", 0.2).attr("stroke-width", 0.6);
const line2 = d3.line().x((d, i) => x(tm(i))).y(d => P2.y(d));
[[lvlZ, "#dc143c"], [lvlC, "#ff8c00"], [lvlA, "#ffd700"]].forEach(([arr, col]) => {
  P2.plot.append("path").attr("d", line2(arr)).attr("fill", "none").attr("stroke", col).attr("stroke-width", 1.6).attr("stroke-linejoin", "round");
});
P2.frame();
{
  const lg = svg.append("g");
  lg.append("rect").attr("x", 2277).attr("y", 1103).attr("width", 61).attr("height", 40).attr("rx", 3)
    .attr("fill", "#fff7dc").attr("fill-opacity", 0.85).attr("stroke", "#dcbf95").attr("stroke-width", 1);
  botLegend.forEach(([t, c], k) => {
    const yy = 1111 + k * 11.6;
    lg.append("line").attr("x1", 2280).attr("x2", 2301).attr("y1", yy).attr("y2", yy).attr("stroke", c).attr("stroke-width", 2.6);
    lg.append("text").attr("x", 2308).attr("y", yy + 3.4).attr("font-size", 9.5).attr("fill", "#222").text(t);
  });
}
</script></body></html>
